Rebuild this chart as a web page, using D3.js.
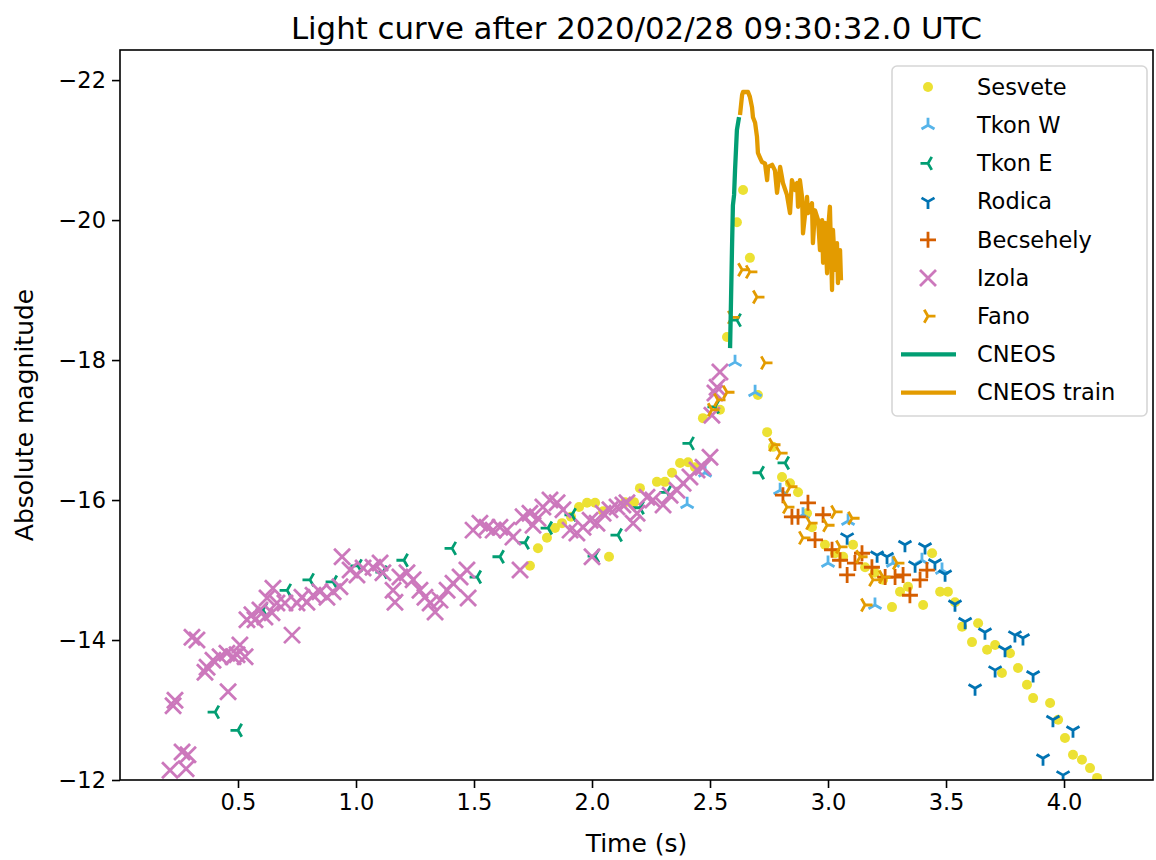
<!DOCTYPE html>
<html>
<head>
<meta charset="utf-8">
<script src="https://cdn.jsdelivr.net/npm/d3@7"></script>
<style>
  body { margin: 0; background: #fff; }
  text { font-family: "DejaVu Sans", sans-serif; }
</style>
</head>
<body>
<script>
// data: [time (s), absolute magnitude]
var sesvete = [[1.737,-15.06],[1.771,-15.31],[1.809,-15.46],[1.843,-15.60],[1.873,-15.67],[1.911,-15.76],[1.945,-15.90],[1.979,-15.96],[2.013,-15.96],[2.047,-15.84],[2.072,-15.19],[2.140,-15.97],[2.178,-15.97],[2.203,-16.17],[2.275,-16.26],[2.309,-16.26],[2.339,-16.39],[2.373,-16.53],[2.407,-16.54],[2.436,-16.47],[2.470,-17.17],[2.542,-17.29],[2.572,-18.33],[2.614,-19.97],[2.640,-20.43],[2.669,-19.46],[2.703,-17.50],[2.742,-16.97],[2.767,-16.76],[2.805,-16.33],[2.839,-16.24],[2.873,-16.11],[2.911,-15.81],[2.932,-15.61],[2.987,-15.36],[3.030,-15.24],[3.064,-15.19],[3.106,-15.36],[3.157,-15.04],[3.199,-14.96],[3.233,-14.86],[3.271,-14.47],[3.305,-14.69],[3.339,-14.76],[3.403,-14.50],[3.441,-15.24],[3.475,-14.69],[3.508,-14.69],[3.538,-14.54],[3.568,-14.19],[3.610,-13.97],[3.636,-14.24],[3.674,-13.86],[3.708,-13.93],[3.737,-13.53],[3.771,-13.81],[3.805,-13.60],[3.843,-13.36],[3.869,-13.17],[3.941,-13.10],[3.975,-12.86],[4.004,-12.60],[4.038,-12.36],[4.076,-12.29],[4.110,-12.17],[4.140,-12.03]];
var tkonW = [[2.403,-15.94],[2.479,-16.39],[2.606,-17.97],[2.691,-17.54],[2.797,-16.14],[2.894,-15.79],[3.085,-15.70],[3.000,-15.10],[3.199,-14.50],[3.275,-15.10],[3.398,-15.14],[3.483,-15.00]];
var tkonE = [[0.403,-12.97],[0.500,-12.71],[0.606,-14.43],[0.708,-14.71],[0.805,-14.86],[0.903,-14.83],[1.008,-15.06],[1.114,-14.97],[1.203,-15.14],[1.407,-15.31],[1.513,-14.90],[1.610,-15.19],[1.716,-15.39],[1.814,-15.60],[1.915,-15.79],[2.013,-15.20],[2.110,-15.50],[2.203,-15.89],[2.318,-16.11],[2.415,-16.81],[2.521,-17.33],[2.614,-18.57],[2.712,-16.39],[2.818,-16.53]];
var rodica = [[3.081,-15.47],[3.208,-15.21],[3.250,-15.19],[3.326,-15.36],[3.369,-15.07],[3.411,-15.33],[3.453,-15.10],[3.496,-14.94],[3.538,-14.51],[3.581,-14.26],[3.623,-13.31],[3.665,-14.11],[3.708,-13.57],[3.750,-13.86],[3.792,-14.07],[3.826,-14.03],[3.869,-13.50],[3.953,-12.86],[4.038,-12.71],[3.911,-12.31],[3.996,-12.07]];
var becsehely = [[2.809,-16.07],[2.847,-15.76],[2.873,-15.76],[2.915,-15.96],[2.979,-15.79],[2.945,-15.43],[3.017,-15.29],[3.051,-15.14],[3.081,-14.93],[3.114,-15.10],[3.144,-15.24],[3.186,-15.04],[3.242,-14.90],[3.284,-14.90],[3.318,-14.93],[3.347,-14.64],[3.390,-14.86],[3.419,-15.00]];
var izola = [[0.212,-12.14],[0.280,-12.16],[0.263,-12.40],[0.288,-12.36],[0.233,-13.14],[0.225,-13.06],[0.458,-13.26],[0.305,-14.04],[0.326,-14.00],[0.369,-13.61],[0.360,-13.54],[0.394,-13.71],[0.424,-13.76],[0.453,-13.81],[0.479,-13.76],[0.496,-13.79],[0.508,-13.93],[0.530,-13.76],[0.538,-14.29],[0.559,-14.36],[0.572,-14.29],[0.593,-14.43],[0.614,-14.33],[0.644,-14.39],[0.648,-14.74],[0.623,-14.60],[0.665,-14.53],[0.699,-14.53],[0.729,-14.07],[0.750,-14.53],[0.771,-14.61],[0.792,-14.54],[0.818,-14.64],[0.847,-14.69],[0.877,-14.61],[0.903,-14.69],[0.932,-14.76],[0.941,-15.19],[0.975,-15.00],[1.004,-14.93],[1.030,-15.03],[1.072,-15.04],[1.102,-15.10],[1.114,-14.96],[1.157,-14.71],[1.165,-14.54],[1.186,-14.90],[1.216,-14.96],[1.242,-14.86],[1.271,-14.71],[1.292,-14.61],[1.314,-14.53],[1.335,-14.40],[1.356,-14.57],[1.386,-14.71],[1.411,-14.81],[1.441,-14.90],[1.470,-15.00],[1.475,-14.60],[1.496,-15.57],[1.525,-15.67],[1.555,-15.61],[1.581,-15.57],[1.610,-15.61],[1.640,-15.57],[1.665,-15.47],[1.695,-15.00],[1.708,-15.76],[1.737,-15.81],[1.750,-15.64],[1.771,-15.74],[1.792,-15.90],[1.822,-16.00],[1.852,-15.96],[1.877,-15.86],[1.907,-15.57],[1.936,-15.53],[1.962,-15.61],[1.992,-15.71],[2.000,-15.19],[2.021,-15.67],[2.047,-15.81],[2.076,-15.86],[2.106,-15.90],[2.131,-15.93],[2.148,-15.96],[2.174,-15.67],[2.191,-15.81],[2.233,-16.04],[2.258,-16.00],[2.301,-15.93],[2.331,-16.07],[2.360,-16.14],[2.386,-16.24],[2.415,-16.33],[2.445,-16.43],[2.470,-16.47],[2.500,-16.61],[2.508,-17.21],[2.521,-17.53],[2.530,-17.61],[2.542,-17.83]];
var fano = [[2.508,-17.29],[2.534,-17.43],[2.572,-17.54],[2.593,-18.61],[2.636,-19.29],[2.669,-19.26],[2.699,-18.90],[2.733,-17.96],[2.767,-16.79],[2.797,-16.67],[2.839,-16.19],[2.826,-15.90],[2.894,-15.46],[2.924,-15.67],[2.996,-15.64],[3.030,-15.83],[3.102,-15.74],[3.051,-15.33],[3.136,-15.19],[3.191,-14.86],[3.233,-14.90],[3.292,-15.10],[3.157,-14.50]];
var cneos = [[2.585,-18.17],[2.589,-18.86],[2.593,-19.57],[2.597,-20.21],[2.602,-20.36],[2.606,-20.71],[2.610,-21.00],[2.614,-21.29],[2.623,-21.47]];
var cneosTrain = [[2.627,-21.50],[2.636,-21.79],[2.640,-21.83],[2.661,-21.83],[2.669,-21.76],[2.678,-21.61],[2.682,-21.47],[2.691,-21.39],[2.699,-21.19],[2.703,-20.96],[2.712,-20.89],[2.720,-20.83],[2.733,-20.81],[2.742,-20.57],[2.746,-20.76],[2.763,-20.79],[2.775,-20.71],[2.784,-20.39],[2.797,-20.76],[2.805,-20.61],[2.809,-20.53],[2.826,-20.36],[2.839,-20.10],[2.847,-20.57],[2.860,-20.43],[2.869,-20.53],[2.873,-20.19],[2.881,-20.57],[2.890,-20.33],[2.894,-19.81],[2.911,-20.33],[2.915,-20.10],[2.932,-20.24],[2.936,-19.67],[2.945,-20.14],[2.958,-20.00],[2.966,-19.57],[2.975,-20.00],[2.979,-19.39],[2.987,-19.96],[2.996,-19.24],[3.000,-19.86],[3.008,-20.19],[3.017,-19.00],[3.021,-19.86],[3.030,-19.29],[3.038,-19.67],[3.042,-19.10],[3.051,-19.57],[3.055,-19.14]];

var xTicks = [0.5, 1.0, 1.5, 2.0, 2.5, 3.0, 3.5, 4.0];
var yTicks = [-22, -20, -18, -16, -14, -12];

var screenW = 1156, screenH = 860;
var plotL = 120, plotR = 1153, plotT = 50, plotB = 780;

var svg = d3.select("body").append("svg")
            .attr("width", screenW)
            .attr("height", screenH);

var x = d3.scaleLinear().domain([0, 4.377]).range([plotL, plotR]);
var y = d3.scaleLinear().domain([-12, -22.43]).range([plotB, plotT]);

//marker shapes, drawn around 0,0
function triPath(dir, r) {
    var p = d3.path();
    var base = {up: -90, down: 90, left: 180, right: 0}[dir];
    for (var k = 0; k < 3; k++) {
        var a = (base + k * 120) * Math.PI / 180;
        p.moveTo(0, 0);
        p.lineTo(r * Math.cos(a), r * Math.sin(a));
    }
    return p.toString();
}
function xPath(r) {
    var p = d3.path();
    p.moveTo(-r, -r); p.lineTo(r, r);
    p.moveTo(-r, r); p.lineTo(r, -r);
    return p.toString();
}
function plusPath(r) {
    var p = d3.path();
    p.moveTo(-r, 0); p.lineTo(r, 0);
    p.moveTo(0, -r); p.lineTo(0, r);
    return p.toString();
}

var series = [
    {name: "Sesvete",   data: sesvete,   color: "#ece133", kind: "dot"},
    {name: "Tkon W",    data: tkonW,     color: "#56b4e9", kind: "path", d: triPath("up", 7.5)},
    {name: "Tkon E",    data: tkonE,     color: "#029e73", kind: "path", d: triPath("left", 7.5)},
    {name: "Rodica",    data: rodica,    color: "#0173b2", kind: "path", d: triPath("down", 7.5)},
    {name: "Becsehely", data: becsehely, color: "#d55e00", kind: "path", d: plusPath(8)},
    {name: "Izola",     data: izola,     color: "#cc78bc", kind: "path", d: xPath(8)},
    {name: "Fano",      data: fano,      color: "#e39b00", kind: "path", d: triPath("right", 7.5)}
];
var lines = [
    {name: "CNEOS",       data: cneos,      color: "#029e73"},
    {name: "CNEOS train", data: cneosTrain, color: "#e39b00"}
];

svg.append("defs").append("clipPath").attr("id", "plotClip")
    .append("rect").attr("x", plotL).attr("y", plotT)
    .attr("width", plotR - plotL).attr("height", plotB - plotT);

var plot = svg.append("g").attr("clip-path", "url(#plotClip)");

series.forEach(function(s) {
    var g = plot.append("g").attr("class", "series");
    if (s.kind == "dot") {
        g.selectAll("circle").data(s.data).enter().append("circle")
            .attr("cx", function(d) { return x(d[0]); })
            .attr("cy", function(d) { return y(d[1]); })
            .attr("r", 5)
            .style("fill", s.color);
    } else {
        g.selectAll("path").data(s.data).enter().append("path")
            .attr("transform", function(d) { return "translate(" + x(d[0]) + "," + y(d[1]) + ")"; })
            .attr("d", s.d)
            .style("fill", "none")
            .style("stroke", s.color)
            .style("stroke-width", 2.8);
    }
});

var lineGen = d3.line().x(function(d) { return x(d[0]); }).y(function(d) { return y(d[1]); });
lines.forEach(function(l) {
    plot.append("path").datum(l.data)
        .attr("d", lineGen)
        .style("fill", "none")
        .style("stroke", l.color)
        .style("stroke-width", 4.3)
        .style("stroke-linejoin", "round");
});

//axes
var minus = function(v) { return (v < 0 ? "\u2212" : "") + Math.abs(v); };
var xAxis = svg.append("g").attr("transform", "translate(0," + plotB + ")")
    .call(d3.axisBottom(x).tickValues(xTicks).tickFormat(d3.format(".1f")).tickSize(8).tickPadding(6));
var yAxis = svg.append("g").attr("transform", "translate(" + plotL + ",0)")
    .call(d3.axisLeft(y).tickValues(yTicks).tickFormat(minus).tickSize(8).tickPadding(6));
[xAxis, yAxis].forEach(function(a) {
    a.select(".domain").remove();
    a.selectAll("line").style("stroke", "#000").style("stroke-width", 1.6);
    a.selectAll("text").style("font-family", "DejaVu Sans").style("font-size", "22.5px").style("fill", "#000");
});

svg.append("rect").attr("x", plotL).attr("y", plotT)
    .attr("width", plotR - plotL).attr("height", plotB - plotT)
    .style("fill", "none").style("stroke", "#000").style("stroke-width", 1.6);

svg.append("text").attr("x", (plotL + plotR) / 2).attr("y", 39)
    .attr("text-anchor", "middle").style("font-size", "30.8px")
    .text("Light curve after 2020/02/28 09:30:32.0 UTC");
svg.append("text").attr("x", (plotL + plotR) / 2).attr("y", 852)
    .attr("text-anchor", "middle").style("font-size", "25px")
    .text("Time (s)");
svg.append("text").attr("transform", "translate(33," + (plotT + plotB) / 2 + ") rotate(-90)")
    .attr("text-anchor", "middle").style("font-size", "25px")
    .text("Absolute magnitude");

//legend
var legend = svg.append("g").attr("class", "legend");
legend.append("rect").attr("x", 892).attr("y", 66).attr("width", 255).attr("height", 350)
    .attr("rx", 5).style("fill", "#fff").style("fill-opacity", 0.8)
    .style("stroke", "#d6d6d6").style("stroke-width", 1.6);
var entries = series.concat(lines);
entries.forEach(function(s, i) {
    var ly = 87 + i * 38.2;
    var row = legend.append("g").attr("transform", "translate(0," + ly + ")");
    if (s.kind == "dot") {
        row.append("circle").attr("cx", 928).attr("cy", 0).attr("r", 5).style("fill", s.color);
    } else if (s.kind == "path") {
        row.append("path").attr("transform", "translate(928,0)").attr("d", s.d)
            .style("fill", "none").style("stroke", s.color).style("stroke-width", 2.8);
    } else {
        row.append("line").attr("x1", 901).attr("x2", 956).attr("y1", 0).attr("y2", 0)
            .style("stroke", s.color).style("stroke-width", 4.3);
    }
    row.append("text").attr("x", 977).attr("y", 0).attr("dy", "0.35em")
        .style("font-size", "22.5px").text(s.name);
});
</script>
</body>
</html>
